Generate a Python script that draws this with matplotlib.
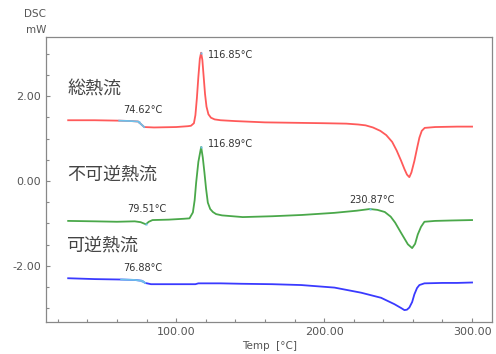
import matplotlib
matplotlib.use("Agg")
import matplotlib.pyplot as plt
import numpy as np
from matplotlib.ticker import MultipleLocator, FormatStrFormatter

plt.rcParams['font.family'] = ['DejaVu Sans', 'Noto Sans CJK JP']

# Total heat flow (mW) vs temperature (C)
total_t = [27, 45, 61.5, 70, 74.3, 76.5, 78.4, 85, 100, 108, 110, 112, 113, 114, 115, 116,
           116.85, 117.7, 118.6, 119.5, 120.5, 121.8, 123.5, 126, 130, 140, 160, 180, 200,
           215, 223, 228, 233, 238, 242, 246, 249, 252, 254.3, 256, 257.6, 259, 261, 263,
           264.4, 266, 268, 275, 290, 300]
total_v = [1.43, 1.43, 1.42, 1.41, 1.40, 1.33, 1.27, 1.26, 1.27, 1.29, 1.30, 1.36, 1.55, 1.95,
           2.45, 2.88, 3.02, 2.85, 2.45, 2.05, 1.75, 1.57, 1.49, 1.45, 1.43, 1.41, 1.38, 1.37,
           1.36, 1.35, 1.33, 1.31, 1.26, 1.18, 1.08, 0.92, 0.72, 0.48, 0.28, 0.15, 0.09, 0.20,
           0.47, 0.80, 1.02, 1.18, 1.25, 1.27, 1.28, 1.28]

# Non-reversing heat flow
nonrev_t = [27, 45, 60, 72, 76, 79.51, 81.5, 84, 95, 105, 109, 111.3, 112.5, 113.5, 115,
            116.89, 118, 119.1, 120.2, 121.4, 123, 124.8, 127, 131, 145, 165, 185, 207, 222,
            230.87, 236, 241, 245, 248, 252, 256.6, 259.5, 261.5, 263.3, 265.5, 267.8, 275,
            286, 300]
nonrev_v = [-0.94, -0.95, -0.96, -0.95, -0.97, -1.02, -0.96, -0.92, -0.91, -0.89, -0.88, -0.74,
            -0.45, -0.04, 0.45, 0.80, 0.55, 0.20, -0.18, -0.51, -0.66, -0.73, -0.78, -0.81,
            -0.85, -0.83, -0.80, -0.75, -0.70, -0.66, -0.68, -0.73, -0.84, -0.98, -1.22, -1.49,
            -1.58, -1.48, -1.26, -1.08, -0.96, -0.94, -0.93, -0.92]

# Reversing heat flow
rev_t = [27, 45, 62.8, 72, 76.88, 79, 83, 100, 113, 115, 118, 130, 144, 165, 184.5, 207, 225,
         238.5, 247.5, 252, 254.3, 256, 257.6, 259.5, 261, 262.8, 264.4, 267.8, 280, 290, 300]
rev_v = [-2.29, -2.31, -2.32, -2.33, -2.35, -2.40, -2.43, -2.43, -2.43, -2.41, -2.41, -2.41,
         -2.42, -2.43, -2.45, -2.51, -2.63, -2.75, -2.90, -2.99, -3.04, -3.03, -2.98, -2.85,
         -2.67, -2.52, -2.45, -2.41, -2.40, -2.40, -2.39]

# analysis results: (temperature, label x, label y)
events_total = [(74.62, 64.2, 1.67), (116.85, 121.6, 2.96)]
events_nonrev = [(79.51, 66.9, -0.66), (116.89, 121.6, 0.87), (230.87, 217.0, -0.45)]
events_rev = [(76.88, 64.2, -2.05)]

# glass transition ranges marked on the curves
tg_total = (61.5, 78.4)
tg_rev = (62.8, 79.0)

curve_names = ['総熱流', '不可逆熱流', '可逆熱流']
name_pos = [(26.4, 2.16), (26.4, 0.16), (26.4, -1.53)]

red = '#ff5a5a'
green = '#4aa84a'
blue = '#3a3aff'
cyan = '#6ec0ea'
gray = '#555555'

fig = plt.figure(figsize=(4.96, 3.54), dpi=100)
ax = fig.add_axes([0.0927, 0.0904, 0.8993, 0.8051])

for t, v, c in [(total_t, total_v, red), (nonrev_t, nonrev_v, green), (rev_t, rev_v, blue)]:
    ax.plot(t, v, color=c, lw=1.3, solid_joinstyle='round')

# highlight the Tg range
for t, v, (a, b) in [(total_t, total_v, tg_total), (rev_t, rev_v, tg_rev)]:
    t = np.array(t)
    v = np.array(v)
    m = (t >= a) & (t <= b)
    ax.plot(t[m], v[m], color=cyan, lw=1.3)

# event markers and labels
for t, v, evs in [(total_t, total_v, events_total), (nonrev_t, nonrev_v, events_nonrev),
                  (rev_t, rev_v, events_rev)]:
    for temp, lx, ly in evs:
        y = np.interp(temp, t, v)
        ax.plot([temp], [y], 's', ms=2, color=cyan, mec='none')
        ax.text(lx, ly, '%.2f°C' % temp, fontsize=7, color='#333333',
                ha='left', va='center')

for name, (x, y) in zip(curve_names, name_pos):
    ax.text(x, y, name, fontsize=13, color='#444444', ha='left', va='center',
            family=['Noto Sans CJK JP', 'DejaVu Sans'])

ax.set_xlim(12, 313.5)
ax.set_ylim(-3.32, 3.39)
ax.xaxis.set_major_locator(MultipleLocator(100))
ax.xaxis.set_minor_locator(MultipleLocator(20))
ax.yaxis.set_major_locator(MultipleLocator(2))
ax.yaxis.set_minor_locator(MultipleLocator(0.5))
ax.xaxis.set_major_formatter(FormatStrFormatter('%.2f'))
ax.yaxis.set_major_formatter(FormatStrFormatter('%.2f'))
ax.tick_params(which='both', direction='in', colors='#888888', labelcolor=gray,
               labelsize=8, width=0.8)
ax.tick_params(which='major', length=3)
ax.tick_params(which='minor', length=2)
for s in ax.spines.values():
    s.set_color('#888888')
    s.set_linewidth(0.9)

fig.text(35 / 496, 1 - 14 / 354, 'DSC', fontsize=7.5, color=gray, ha='center', va='center')
fig.text(36 / 496, 1 - 30 / 354, 'mW', fontsize=7.5, color=gray, ha='center', va='center')
fig.text(270 / 496, 1 - 346 / 354, 'Temp  [°C]', fontsize=7.5, color=gray,
         ha='center', va='center')

fig.savefig('out.png', dpi=100)
